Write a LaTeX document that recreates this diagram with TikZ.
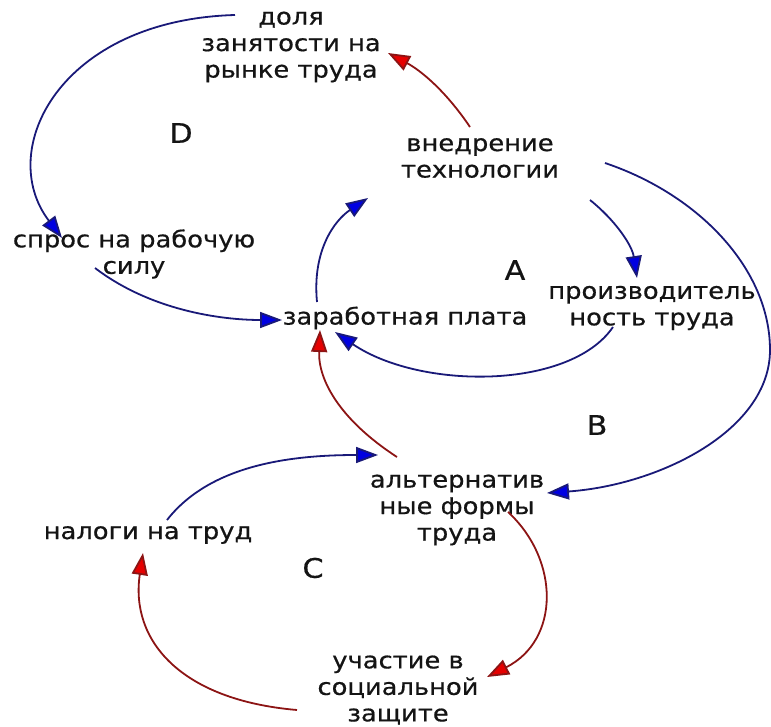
\documentclass[tikz,border=0pt]{standalone}
\usepackage{fontspec}
\setmainfont{DejaVu Sans}[FakeStretch=1.12,FakeBold=0.6]
\usetikzlibrary{arrows.meta}
\definecolor{bline}{RGB}{25,25,120}
\definecolor{bhead}{RGB}{0,0,225}
\definecolor{rline}{RGB}{140,20,20}
\definecolor{rhead}{RGB}{230,0,0}
\definecolor{txt}{RGB}{20,20,20}
\tikzset{
  lbl/.style={inner sep=0pt, align=center, text=txt, font=\fontsize{23}{26.5}\selectfont},
  loopname/.style={inner sep=0pt, text=txt, font=\fontsize{27}{30}\selectfont},
  poslink/.style={draw=bline, line width=1.8pt, -{Triangle[length=22pt,width=16pt,fill=bhead]}},
  neglink/.style={draw=rline, line width=1.8pt, -{Triangle[length=22pt,width=16pt,fill=rhead]}},
}
\begin{document}
\begin{tikzpicture}[x=1pt,y=-1pt]
\useasboundingbox (0,0) rectangle (771,727);
% nodes
\node[lbl] (dolya) at (291,47) {доля\\занятости на\\рынке труда};
\node[lbl] (vned) at (480,158) {внедрение\\технологии};
\node[lbl] (spros) at (134,254) {спрос на рабочую\\силу};
\node[lbl] (zarp) at (405,318) {заработная плата};
\node[lbl] (proizv) at (652,308) {производитель\\ность труда};
\node[lbl] (alt) at (457,510) {альтернатив\\ные формы\\труда};
\node[lbl] (nalog) at (148,535) {налоги на труд};
\node[lbl] (uchast) at (398,690) {участие в\\социальной\\защите};
\node[loopname] (D) at (181,133) {D};
\node[loopname] (A) at (515,270) {A};
\node[loopname] (B) at (597,425) {B};
\node[loopname] (C) at (313,568) {C};
% endpoints
\coordinate (d1) at (235,15);   \coordinate (s1) at (62,238);
\coordinate (s2) at (95,268);   \coordinate (z1) at (282,320);
\coordinate (z2) at (317,302);  \coordinate (v1) at (368,198);
\coordinate (v2) at (470,127);  \coordinate (d2) at (388,53);
\coordinate (v3) at (590,200);  \coordinate (p1) at (637,278);
\coordinate (v4) at (605,163);  \coordinate (a1) at (547,493);
\coordinate (p2) at (613,327);  \coordinate (z3) at (335,332);
\coordinate (a2) at (397,457);  \coordinate (z4) at (320,330);
\coordinate (n1) at (167,520);  \coordinate (a3) at (378,455);
\coordinate (a4) at (508,512);  \coordinate (u1) at (487,677);
\coordinate (u2) at (297,710);  \coordinate (n2) at (143,553);
% connectors
\draw[poslink] (d1) .. controls (60,20) and (-5,150) .. (s1);
\draw[poslink] (s2) .. controls (150,310) and (220,320) .. (z1);
\draw[poslink] (z2) .. controls (312,250) and (335,220) .. (v1);
\draw[neglink] (v2) .. controls (445,90) and (420,70) .. (d2);
\draw[poslink] (v3) .. controls (615,220) and (632,245) .. (p1);
\draw[poslink] (v4) .. controls (700,195) and (770,270) .. (770,350) .. controls (770,430) and (660,485) .. (a1);
\draw[poslink] (p2) .. controls (570,390) and (420,390) .. (z3);
\draw[neglink] (a2) .. controls (340,420) and (318,380) .. (z4);
\draw[poslink] (n1) .. controls (210,465) and (290,455) .. (a3);
\draw[neglink] (a4) .. controls (560,560) and (560,640) .. (u1);
\draw[neglink] (u2) .. controls (180,700) and (130,640) .. (n2);
\end{tikzpicture}
\end{document}
